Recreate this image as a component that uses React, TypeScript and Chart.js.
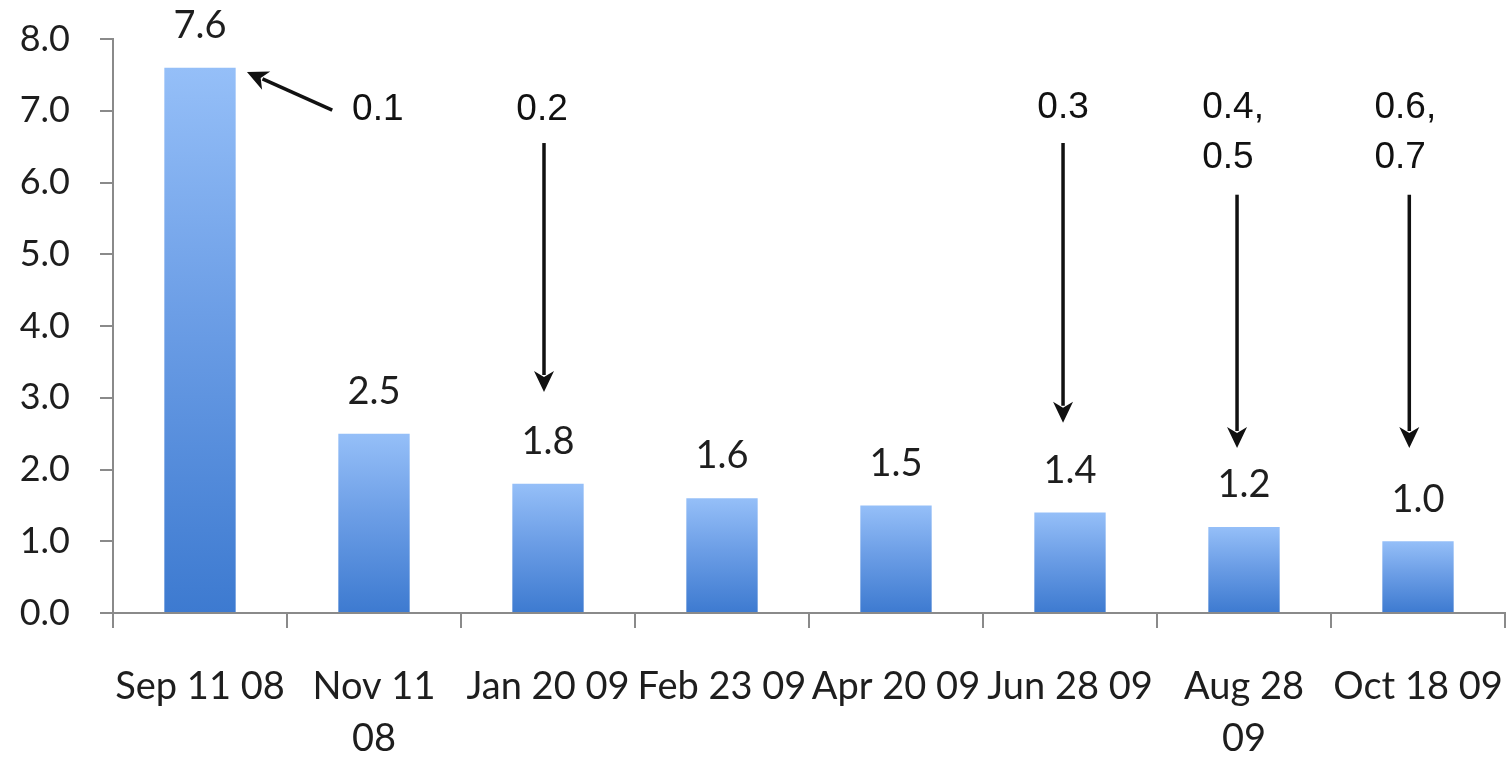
import React, { useEffect, useRef } from "react";
import { Chart, registerables } from "chart.js";

Chart.register(...registerables);

// Categories (dates) and bar values
const categories: (string | string[])[] = [
  "Sep 11 08",
  ["Nov 11", "08"],
  "Jan 20 09",
  "Feb 23 09",
  "Apr 20 09",
  "Jun 28 09",
  ["Aug 28", "09"],
  "Oct 18 09",
];
const values = [7.6, 2.5, 1.8, 1.6, 1.5, 1.4, 1.2, 1.0];

// Y axis ticks
const yTicks = [0, 1, 2, 3, 4, 5, 6, 7, 8];

// Annotation callouts: text lines, text anchor (category index, value), arrow tail and tip
const noteTexts = [["0.1"], ["0.2"], ["0.3"], ["0.4,", "0.5"], ["0.6,", "0.7"]];
const noteAlign = ["left", "center", "center", "left", "left"];
const noteTextAt: [number, number][] = [
  [0.874, 7.01],
  [1.966, 7.01],
  [4.96, 7.04],
  [5.76, 7.04],
  [6.75, 7.04],
];
const noteArrowFrom: [number, number][] = [
  [0.76, 7.01],
  [1.977, 6.55],
  [4.96, 6.55],
  [5.96, 5.83],
  [6.95, 5.83],
];
const noteArrowTo: [number, number][] = [
  [0.27, 7.54],
  [1.977, 3.08],
  [4.96, 2.65],
  [5.96, 2.3],
  [6.95, 2.3],
];

const AXIS_COLOR = "#8a8a8a";
const TEXT_COLOR = "#1e1e1e";
const AXIS_FONT = "Lato";

function drawArrow(ctx: CanvasRenderingContext2D, x0: number, y0: number, x1: number, y1: number) {
  const head = 21;
  const half = 10;
  const ang = Math.atan2(y1 - y0, x1 - x0);
  const bx = x1 - head * Math.cos(ang);
  const by = y1 - head * Math.sin(ang);
  ctx.save();
  ctx.strokeStyle = "#111";
  ctx.fillStyle = "#111";
  ctx.lineWidth = 3.5;
  ctx.beginPath();
  ctx.moveTo(x0, y0);
  ctx.lineTo(bx + 4 * Math.cos(ang), by + 4 * Math.sin(ang));
  ctx.stroke();
  ctx.beginPath();
  ctx.moveTo(x1, y1);
  ctx.lineTo(bx + half * Math.sin(ang), by - half * Math.cos(ang));
  ctx.lineTo(bx + 6 * Math.cos(ang), by + 6 * Math.sin(ang));
  ctx.lineTo(bx - half * Math.sin(ang), by + half * Math.cos(ang));
  ctx.closePath();
  ctx.fill();
  ctx.restore();
}

const labelsPlugin = {
  id: "barLabelsAndNotes",
  afterDatasetsDraw(chart: any) {
    const { ctx, scales } = chart;
    const xs = scales.x;
    const ys = scales.y;
    ctx.save();
    // value labels above bars
    ctx.font = `38px ${AXIS_FONT}`;
    ctx.fillStyle = TEXT_COLOR;
    ctx.textAlign = "center";
    ctx.textBaseline = "middle";
    values.forEach((v, i) => {
      const x = xs.getPixelForValue(i);
      const y = ys.getPixelForValue(v) - 42;
      ctx.fillText(v.toFixed(1), x, y);
    });
    // callout texts and arrows
    ctx.font = `37px "Liberation Sans", Arial, sans-serif`;
    ctx.fillStyle = "#111";
    noteTexts.forEach((lines, k) => {
      const tx = xs.getPixelForValue(noteTextAt[k][0]);
      const ty = ys.getPixelForValue(noteTextAt[k][1]);
      ctx.textAlign = noteAlign[k] as CanvasTextAlign;
      lines.forEach((line, j) => {
        ctx.fillText(line, tx, ty + j * 50);
      });
      const ax0 = xs.getPixelForValue(noteArrowFrom[k][0]);
      const ay0 = ys.getPixelForValue(noteArrowFrom[k][1]);
      const ax1 = xs.getPixelForValue(noteArrowTo[k][0]);
      const ay1 = ys.getPixelForValue(noteArrowTo[k][1]);
      drawArrow(ctx, ax0, ay0, ax1, ay1);
    });
    ctx.restore();
  },
};

export default function App() {
  const canvasRef = useRef<HTMLCanvasElement | null>(null);

  useEffect(() => {
    const canvas = canvasRef.current;
    if (!canvas) return;
    const chart = new Chart(canvas, {
      type: "bar",
      data: {
        labels: categories,
        datasets: [
          {
            data: values,
            backgroundColor: (c: any) => {
              const ch = c.chart;
              const ys = ch.scales?.y;
              if (!ys || c.raw == null || !ch.chartArea) return "#5f93de";
              const top = ys.getPixelForValue(c.raw);
              const base = ys.getPixelForValue(0);
              if (!Number.isFinite(top) || !Number.isFinite(base) || top === base) return "#5f93de";
              const g = ch.ctx.createLinearGradient(0, top, 0, base);
              g.addColorStop(0, "#95bff8");
              g.addColorStop(0.45, "#6c9ee6");
              g.addColorStop(1, "#3d7ad0");
              return g;
            },
            borderWidth: 0,
            categoryPercentage: 1,
            barPercentage: 0.41,
          },
        ],
      },
      options: {
        animation: false,
        responsive: false,
        devicePixelRatio: 1,
        layout: { padding: { top: 39, right: 6, left: 0, bottom: 0 } },
        plugins: {
          legend: { display: false },
          tooltip: { enabled: false },
        },
        scales: {
          x: {
            offset: true,
            border: { display: true, color: AXIS_COLOR, width: 2 },
            grid: {
              offset: true,
              drawOnChartArea: false,
              drawTicks: true,
              tickLength: 15,
              color: AXIS_COLOR,
              lineWidth: 2,
            },
            ticks: {
              autoSkip: false,
              maxRotation: 0,
              minRotation: 0,
              padding: 33,
              color: TEXT_COLOR,
              font: { family: AXIS_FONT, size: 38, lineHeight: 1.37 },
            },
            afterFit: (scale: any) => {
              scale.height = 145;
              scale.paddingLeft = 0;
              scale.paddingRight = 0;
            },
          },
          y: {
            min: 0,
            max: 8,
            afterBuildTicks: (scale: any) => {
              scale.ticks = yTicks.map((v) => ({ value: v }));
            },
            border: { display: true, color: AXIS_COLOR, width: 2 },
            grid: {
              drawOnChartArea: false,
              drawTicks: true,
              tickLength: 13,
              color: AXIS_COLOR,
              lineWidth: 2,
            },
            ticks: {
              padding: 30,
              color: TEXT_COLOR,
              font: { family: AXIS_FONT, size: 36 },
              callback: (v: any) => Number(v).toFixed(1),
            },
            afterFit: (scale: any) => {
              scale.width = 113;
              scale.paddingTop = 0;
              scale.paddingBottom = 0;
            },
          },
        },
      },
      plugins: [labelsPlugin],
    });
    return () => chart.destroy();
  }, []);

  return (
    <div style={{ position: "fixed", left: 0, top: 0, width: 1511, height: 758, background: "#fff" }}>
      <canvas ref={canvasRef} width={1511} height={758} style={{ width: 1511, height: 758 }} />
    </div>
  );
}
